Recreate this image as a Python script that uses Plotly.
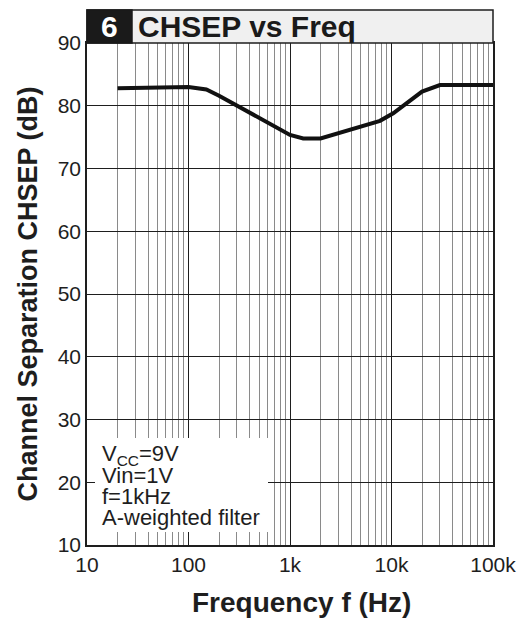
import plotly.graph_objects as go

freq = [20, 100, 150, 200, 1000, 1350, 2000, 7700, 10400, 20000, 30000, 100000]
chsep = [82.8, 83.0, 82.6, 81.6, 75.35, 74.8, 74.8, 77.6, 78.8, 82.25, 83.3, 83.3]

x_tickvals = [10, 100, 1000, 10000, 100000]
x_ticktext = ["10", "100", "1k", "10k", "100k"]
x_minor = [m * 10 ** d for d in range(1, 5) for m in range(2, 10)]
y_tickvals = [10, 20, 30, 40, 50, 60, 70, 80, 90]
cond_lines = ["V<sub>CC</sub>=9V", "Vin=1V", "f=1kHz", "A-weighted filter"]

FONT = "Arial, Liberation Sans, Helvetica, sans-serif"
INK = "#1e1e1e"

# page body has an 8px margin (top/left); size the figure to fill the rest of the window
OFF = 8
W, H = 525 - OFF, 618 - OFF
L, T = 87 - OFF, 43 - OFF
pw, ph = 406, 502
R = W - L - pw
B = H - T - ph

def px(xp):  # reference-picture x pixel -> paper coord
    return (xp - OFF - L) / pw

def py(yp):  # reference-picture y pixel -> paper coord
    return (T + ph - (yp - OFF)) / ph

fig = go.Figure()
fig.add_trace(go.Scatter(x=freq, y=chsep, mode="lines",
                         line=dict(color="#111111", width=4), showlegend=False))

fig.update_layout(
    width=W, height=H,
    margin=dict(l=L, r=R, t=T, b=B),
    paper_bgcolor="white", plot_bgcolor="white",
    font=dict(family=FONT, size=21, color=INK),
    xaxis=dict(type="log", range=[1, 5], tickvals=x_tickvals, ticktext=x_ticktext,
               showgrid=True, gridcolor=INK, gridwidth=1,
               ticks="inside", ticklen=12, tickcolor=INK,
               showline=True, linecolor=INK, linewidth=1.5, mirror=True,
               minor=dict(tickvals=x_minor, showgrid=True, gridcolor="#8a8a8a", gridwidth=1,
                          ticks="inside", ticklen=12, tickcolor="#8a8a8a"),
               tickfont=dict(size=21, color=INK), automargin=False,
               zeroline=False),
    yaxis=dict(range=[10, 90], tickvals=y_tickvals,
               showgrid=True, gridcolor=INK, gridwidth=1,
               ticks="inside", ticklen=8, tickcolor=INK,
               showline=True, linecolor=INK, linewidth=1.5, mirror=True,
               tickfont=dict(size=21, color=INK), automargin=False,
               zeroline=False),
)

# axis titles
fig.add_annotation(xref="paper", yref="paper", x=px(301.5), y=py(602),
                   text="<b>Frequency f (Hz)</b>", showarrow=False,
                   xanchor="center", yanchor="middle",
                   font=dict(size=28, color=INK, family=FONT))
fig.add_annotation(xref="paper", yref="paper", x=px(27.5), y=py(294),
                   text="<b>Channel Separation CHSEP (dB)</b>", showarrow=False, textangle=-90,
                   xanchor="center", yanchor="middle",
                   font=dict(size=27, color=INK, family=FONT))

# title band
band_h = 33 / ph
fig.add_shape(type="rect", xref="paper", yref="paper", x0=0, x1=1, y0=1, y1=1 + band_h,
              fillcolor="#f0f0f0", line=dict(color=INK, width=1.5), layer="above")
fig.add_shape(type="rect", xref="paper", yref="paper", x0=0, x1=45 / pw, y0=1, y1=1 + band_h,
              fillcolor="#1a1a1a", line=dict(color="#1a1a1a", width=1.5), layer="above")
fig.add_annotation(xref="paper", yref="paper", x=px(109), y=1 + band_h / 2, text="<b>6</b>",
                   showarrow=False, font=dict(size=30, color="white", family=FONT),
                   xanchor="center", yanchor="middle")
fig.add_annotation(xref="paper", yref="paper", x=px(136), y=1 + band_h / 2, text="<b>CHSEP vs Freq</b>",
                   showarrow=False, font=dict(size=30, color="#1a1a1a", family=FONT),
                   xanchor="left", yanchor="middle")

# condition box
fig.add_shape(type="rect", xref="paper", yref="paper",
              x0=px(95), x1=px(268), y0=py(532), y1=py(438),
              fillcolor="white", line=dict(width=0), layer="above")
for i, t in enumerate(cond_lines):
    fig.add_annotation(xref="paper", yref="paper", x=px(100), y=py(455 + 20.7 * i),
                       text=t, showarrow=False, align="left", xanchor="left", yanchor="middle",
                       font=dict(size=22, color=INK, family=FONT))

fig.write_html("out.html")
